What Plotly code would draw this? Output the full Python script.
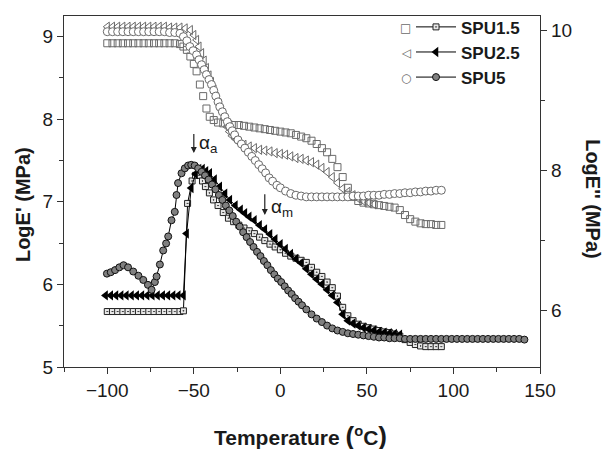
import plotly.graph_objects as go

# ---------------- data ----------------
# Storage modulus E' (left axis, open symbols)
t_s15 = [-100, -97, -94, -91, -88, -85, -82, -79, -76, -73, -70, -67, -64, -61, -58,
         -56, -54, -52, -50, -48.4, -46.5, -44.6, -42.7, -40.8, -38.5, -36, -33, -30,
         -27, -24, -21, -18, -15, -12, -9, -6, -3, 0, 3, 6, 9, 12, 15, 18, 21, 24, 27,
         30, 33, 36, 39, 42, 45, 48, 51, 54, 57, 60, 63, 66, 69, 72, 75, 78, 81, 84,
         87, 90, 93]
e_s15 = [8.92, 8.92, 8.92, 8.92, 8.92, 8.92, 8.92, 8.92, 8.92, 8.92, 8.92, 8.92, 8.92, 8.92, 8.91,
         8.88, 8.84, 8.76, 8.67, 8.58, 8.42, 8.28, 8.13, 8.03, 7.99, 7.96, 7.95, 7.94,
         7.93, 7.93, 7.92, 7.91, 7.90, 7.89, 7.88, 7.87, 7.86, 7.85, 7.84, 7.83, 7.81, 7.79, 7.77, 7.74, 7.70, 7.65, 7.60,
         7.52, 7.42, 7.30, 7.17, 7.06, 7.01, 6.99, 6.98, 6.97, 6.96, 6.95, 6.94, 6.93, 6.90, 6.84, 6.79, 6.76, 6.74, 6.73,
         6.73, 6.72, 6.72]

t_s25 = [-100, -97, -94, -91, -88, -85, -82, -79, -76, -73, -70, -67, -64, -61, -58, -55,
         -52, -50, -48.4, -47, -45.5, -44, -42.7, -41.2, -39.8, -38.3, -36.9, -35.5, -34,
         -32.5, -31, -29.5, -28, -26, -24, -21, -18, -15, -12, -9, -6, -3, 0, 3, 6, 9, 12,
         15, 18, 21, 24, 27, 30, 33, 36, 39, 42, 45, 48, 51, 54]
e_s25 = [9.12, 9.12, 9.12, 9.12, 9.12, 9.12, 9.12, 9.12, 9.12, 9.12, 9.12, 9.12, 9.11, 9.11, 9.11, 9.10,
         9.08, 9.02, 8.96, 8.88, 8.80, 8.71, 8.62, 8.53, 8.45, 8.36, 8.27, 8.19, 8.11,
         8.01, 7.91, 7.85, 7.80, 7.76, 7.72, 7.69, 7.67, 7.65, 7.63, 7.62, 7.61, 7.59, 7.58, 7.57, 7.55, 7.53, 7.52,
         7.50, 7.48, 7.45, 7.41, 7.36, 7.30, 7.23, 7.16, 7.12, 7.08, 7.04, 7.01, 6.99, 6.97]

t_s5 = [-100, -97, -94, -91, -88, -85, -82, -79, -76, -73, -70, -67, -64, -61, -58,
        -56, -54, -52.3, -50.4, -48.4, -47, -45.5, -44, -42.7, -41.2, -39.8, -38.5, -37.3,
        -36, -35, -33.5, -32.1, -30.6, -29.2, -27.8, -26.4, -24.5, -22.5, -20.5, -18.5,
        -16.5, -14.5, -12.5, -10.5, -8.5, -6.5, -4.5, -2, 0, 3, 6, 9, 12, 15, 18, 21, 24,
        27, 30, 33, 36, 39, 42, 45, 48, 51, 54, 57, 60, 63, 66, 69, 72, 75, 78, 81, 84,
        87, 90, 93]
e_s5 = [9.06, 9.06, 9.06, 9.06, 9.06, 9.06, 9.06, 9.06, 9.06, 9.06, 9.06, 9.06, 9.05, 9.05, 9.04,
        9.00, 8.95, 8.88, 8.83, 8.78, 8.72, 8.66, 8.60, 8.54, 8.48, 8.42, 8.35, 8.28,
        8.21, 8.15, 8.09, 8.03, 7.97, 7.91, 7.86, 7.81, 7.75, 7.70, 7.65, 7.60,
        7.55, 7.50, 7.45, 7.40, 7.35, 7.29, 7.25, 7.20, 7.17, 7.13, 7.10, 7.08, 7.07, 7.06, 7.06, 7.06, 7.06,
        7.06, 7.06, 7.06, 7.06, 7.06, 7.07, 7.07, 7.07, 7.08, 7.08, 7.08, 7.09, 7.09, 7.10, 7.10, 7.11, 7.11, 7.12, 7.12, 7.13,
        7.13, 7.14, 7.14]

# Loss modulus E'' (right axis, filled symbols + lines)
t_l15 = [-100, -97, -94, -91, -88, -85, -82, -79, -76, -73, -70, -67, -64, -61, -58, -56,
         -53.6, -51, -49, -47, -45, -43.3, -41, -38.6, -36, -33, -30, -27, -24, -21, -18,
         -15, -12, -9, -6, -3, 0, 3, 6, 9, 12, 15, 18, 21, 24, 27, 30, 33, 36, 39, 42, 45,
         48, 51, 54, 57, 60, 63, 66, 69, 72, 75, 78, 81, 84, 87, 90, 93]
e_l15 = [5.99, 5.99, 5.99, 5.99, 5.99, 5.99, 5.99, 5.99, 5.99, 5.99, 5.99, 5.99, 5.99, 5.99, 5.99, 6.00,
         7.53, 7.85, 7.93, 7.93, 7.85, 7.77, 7.68, 7.58, 7.50, 7.40, 7.32, 7.27, 7.22, 7.18, 7.14,
         7.10, 7.05, 7.00, 6.95, 6.91, 6.87, 6.82, 6.78, 6.75, 6.72, 6.69, 6.62, 6.55, 6.49, 6.41, 6.33, 6.21, 6.05, 5.93, 5.86, 5.81,
         5.78, 5.76, 5.74, 5.72, 5.70, 5.69, 5.67, 5.64, 5.59, 5.55, 5.52, 5.50, 5.49, 5.49, 5.49, 5.49]

t_l25 = [-101, -98, -95, -92, -89, -86, -83, -80, -77, -74, -71, -68, -65, -62, -59, -56,
         -54.2, -51.5, -49, -47, -45, -43, -40.8, -38, -35, -32, -29.2, -26, -23, -20.5,
         -18, -15, -12, -9, -6, -3, 0, 3, 6, 9, 12, 15, 18, 21, 24, 27, 30, 33, 36, 39, 42,
         45, 48, 51, 54, 57, 60, 63, 66, 69]
e_l25 = [6.22, 6.22, 6.22, 6.22, 6.22, 6.22, 6.22, 6.22, 6.22, 6.22, 6.22, 6.22, 6.22, 6.22, 6.22, 6.22,
         7.10, 7.75, 7.95, 8.02, 8.02, 7.99, 7.96, 7.87, 7.77, 7.67, 7.58, 7.50, 7.44, 7.39,
         7.34, 7.29, 7.22, 7.16, 7.09, 7.02, 6.95, 6.88, 6.81, 6.74, 6.68, 6.60, 6.52, 6.45, 6.38, 6.30, 6.22, 6.12, 5.95, 5.86, 5.82,
         5.79, 5.76, 5.74, 5.72, 5.70, 5.69, 5.68, 5.67, 5.66]

t_l5 = [-100.2, -98, -95.5, -93, -90.6, -88, -85, -82, -79.2, -76.5, -74.4, -72.5, -71.5,
        -69.6, -67.7, -66, -64.8, -62.9, -61, -60, -59.1, -57.1, -55.2, -53.3, -51.5, -49.5,
        -47.5, -45.5, -43.5, -41.5, -39.5, -37.5, -35.5, -33.5, -31.5, -29.5, -27.5, -25.5,
        -23.5, -21.5, -19.5, -17.5, -15.5, -13.5, -11.5, -9.5, -7.5, -5.5, -3.5, -1.5, 0.5,
        2.5, 4.5, 6.5, 8.5, 10.5, 12.5, 15, 18, 21, 24, 27, 30, 33, 36, 39, 42, 45, 48, 51,
        54, 57, 60, 63, 66, 69, 72, 75, 78, 81, 84, 87, 90, 93, 96, 99, 102, 105, 108, 111,
        114, 117, 120, 123, 126, 129, 132, 135, 138, 141]
e_l5 = [6.53, 6.55, 6.58, 6.62, 6.65, 6.62, 6.56, 6.50, 6.44, 6.37, 6.30, 6.41, 6.49,
        6.66, 6.86, 6.96, 7.06, 7.29, 7.41, 7.65, 7.82, 7.96, 8.03, 8.07, 8.08, 8.07,
        8.03, 7.98, 7.93, 7.87, 7.80, 7.73, 7.65, 7.58, 7.50, 7.43, 7.35, 7.27,
        7.20, 7.12, 7.05, 6.98, 6.91, 6.84, 6.78, 6.71, 6.65, 6.58, 6.52, 6.46, 6.41,
        6.35, 6.29, 6.24, 6.18, 6.13, 6.08, 6.02, 5.95, 5.89, 5.84, 5.79, 5.75, 5.72, 5.70, 5.68, 5.67, 5.66, 5.65, 5.64,
        5.63, 5.62, 5.62, 5.61, 5.61, 5.61, 5.60, 5.60, 5.60, 5.60, 5.60, 5.60, 5.60, 5.60, 5.60, 5.60, 5.60, 5.60, 5.60, 5.60,
        5.60, 5.60, 5.60, 5.60, 5.60, 5.60, 5.60, 5.60, 5.60, 5.59]

names = ["SPU1.5", "SPU2.5", "SPU5"]
x_ticks = [-100, -50, 0, 50, 100, 150]
y_left_ticks = [5, 6, 7, 8, 9]
y_right_ticks = [6, 8, 10]

FONT = "Liberation Sans, Arial, sans-serif"
TXT = "#1a1a1a"
LEG_SIZE = 17
ROW_GAP = LEG_SIZE * 1.3 + 3

fig = go.Figure()

# storage (open)
fig.add_trace(go.Scatter(x=t_s15, y=e_s15, mode="markers", showlegend=False,
                         marker=dict(symbol="square-open", size=7, color="#6a6a6a", line=dict(width=1))))
fig.add_trace(go.Scatter(x=t_s25, y=e_s25, mode="markers", showlegend=False,
                         marker=dict(symbol="triangle-left-open", size=8, color="#6a6a6a", line=dict(width=1))))
fig.add_trace(go.Scatter(x=t_s5, y=e_s5, mode="markers", showlegend=False,
                         marker=dict(symbol="circle", size=8, color="white", line=dict(width=1, color="#6a6a6a"))))

# loss (filled + line)
fig.add_trace(go.Scatter(x=t_l15, y=e_l15, mode="lines+markers", name=names[0], yaxis="y2",
                         line=dict(color="black", width=1),
                         marker=dict(symbol="square-dot", size=6, color="#e8e8e8", line=dict(width=1, color="#222"))))
fig.add_trace(go.Scatter(x=t_l25, y=e_l25, mode="lines+markers", name=names[1], yaxis="y2",
                         line=dict(color="black", width=1),
                         marker=dict(symbol="triangle-left", size=9, color="black", line=dict(width=0))))
fig.add_trace(go.Scatter(x=t_l5, y=e_l5, mode="lines+markers", name=names[2], yaxis="y2",
                         line=dict(color="black", width=1),
                         marker=dict(symbol="circle", size=7, color="#808080", line=dict(width=1, color="#111"))))

axis_common = dict(showline=True, linecolor="#333", linewidth=1.3, ticks="outside", ticklen=6,
                   tickwidth=1.2, tickcolor="#333", showgrid=False, zeroline=False,
                   tickfont=dict(family=FONT, size=19, color=TXT))

fig.update_layout(
    width=606, height=449,
    margin=dict(l=64, r=66, t=16, b=82, autoexpand=False),
    paper_bgcolor="white", plot_bgcolor="white",
    xaxis=dict(range=[-125, 150], tickvals=x_ticks, mirror=True,
               minor=dict(dtick=25, tick0=-125, ticks="outside", ticklen=4, tickcolor="#333"),
               **axis_common),
    yaxis=dict(range=[5, 9.25], tickvals=y_left_ticks, mirror=True,
               minor=dict(dtick=0.5, tick0=5, ticks="outside", ticklen=4, tickcolor="#333"),
               **axis_common),
    yaxis2=dict(range=[5.2, 10.2], tickvals=y_right_ticks, overlaying="y", side="right",
                minor=dict(dtick=1, tick0=6, ticks="outside", ticklen=4, tickcolor="#333"),
                **axis_common),
    legend=dict(x=0.729, y=1.019, xanchor="left", yanchor="top", bgcolor="rgba(0,0,0,0)",
                font=dict(family=FONT, size=LEG_SIZE, color=TXT, weight="bold"),
                tracegroupgap=0, itemwidth=40),
    showlegend=True,
)

# open symbol part of legend
for i, g in enumerate(["\u25a1", "\u25c1", "\u25cb"]):
    fig.add_annotation(xref="paper", yref="paper", x=0.718, y=(367 - (28 + ROW_GAP * i)) / 351,
                       text=g, showarrow=False, font=dict(family="DejaVu Sans", size=12, color="#6a6a6a"),
                       xanchor="center", yanchor="middle")

# axis titles
fig.add_annotation(xref="paper", yref="paper", x=-0.086, y=0.4615, text="LogE' (MPa)", textangle=-90,
                   xanchor="center", yanchor="middle",
                   showarrow=False, font=dict(family=FONT, size=20, color=TXT, weight="bold"))
fig.add_annotation(xref="paper", yref="paper", x=1.111, y=0.4786, text="LogE'' (MPa)", textangle=90,
                   xanchor="center", yanchor="middle",
                   showarrow=False, font=dict(family=FONT, size=20, color=TXT, weight="bold"))
fig.add_annotation(xref="paper", yref="paper", x=0.496, y=-0.197,
                   xanchor="center", yanchor="middle",
                   text="Temperature <span style='font-size:26px'>(</span><sup>o</sup>C<span style='font-size:26px'>)</span>",
                   showarrow=False, font=dict(family=FONT, size=21, color=TXT, weight="bold"))

# alpha markers
fig.add_annotation(x=-50, y=7.59, ax=-50, ay=7.84, axref="x", ayref="y", xref="x", yref="y",
                   text="", showarrow=True, arrowhead=2, arrowsize=1, arrowwidth=1.2, arrowcolor="#222")
fig.add_annotation(x=-41.5, y=7.70, xref="x", yref="y", text="\u03b1<sub>a</sub>", showarrow=False,
                   xanchor="center", yanchor="middle", font=dict(family=FONT, size=19, color=TXT))
fig.add_annotation(x=-9, y=6.84, ax=-9, ay=7.11, axref="x", ayref="y", xref="x", yref="y",
                   text="", showarrow=True, arrowhead=2, arrowsize=1, arrowwidth=1.2, arrowcolor="#222")
fig.add_annotation(x=1, y=6.93, xref="x", yref="y", text="\u03b1<sub>m</sub>", showarrow=False,
                   xanchor="center", yanchor="middle", font=dict(family=FONT, size=19, color=TXT))

fig.write_html("out.html")
